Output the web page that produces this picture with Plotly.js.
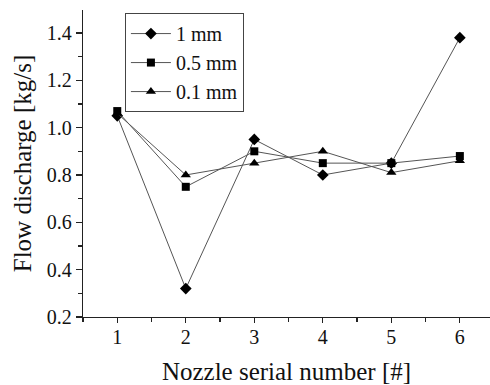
<!DOCTYPE html>
<html><head><meta charset="utf-8">
<script src="https://cdn.plot.ly/plotly-3.0.1.min.js"></script>
<style>body{margin:0;background:#fff}#c{width:490px;height:385px}</style>
</head><body><div id="c"></div>
<script>
const nozzles = [1, 2, 3, 4, 5, 6];
const seriesNames = ["1 mm", "0.5 mm", "0.1 mm"];
const flow1mm = [1.05, 0.32, 0.95, 0.80, 0.85, 1.38];
const flow05mm = [1.07, 0.75, 0.90, 0.85, 0.85, 0.88];
const flow01mm = [1.06, 0.80, 0.85, 0.90, 0.81, 0.86];
const symbols = ["diamond", "square", "triangle-up"];
const sizes = [9, 8, 9];
const allY = [flow1mm, flow05mm, flow01mm];

const traces = allY.map((y, i) => ({
  x: nozzles, y: y, name: seriesNames[i], type: "scatter", mode: "lines+markers",
  line: {color: "#555", width: 1},
  marker: {symbol: symbols[i], size: sizes[i], color: "#000"}
}));

const fam = "Liberation Serif, Times New Roman, serif";
const layout = {
  width: 490, height: 385,
  margin: {l: 83, r: 0, t: 10, b: 68},
  paper_bgcolor: "#fff", plot_bgcolor: "#fff",
  font: {family: fam, color: "#111"},
  showlegend: true,
  legend: {x: 0.103, y: 0.99, xanchor: "left", yanchor: "top",
    bordercolor: "#444", borderwidth: 1, font: {family: fam, size: 20, color: "#111"},
    tracegroupgap: 0, itemwidth: 40},
  xaxis: {range: [0.5, 6.44], tickvals: nozzles, ticks: "outside", ticklen: 5, tickwidth: 1.2,
    tickcolor: "#222", showline: true, linecolor: "#222", linewidth: 1.2, showgrid: false, zeroline: false,
    tickfont: {family: fam, size: 20, color: "#111"}, ticklabelstandoff: -3,
    minor: {dtick: 0.5, ticks: "outside", ticklen: 4, tickcolor: "#222", showgrid: false},
    title: {text: "Nozzle serial number [#]", font: {family: fam, size: 25, color: "#111"}, standoff: 18}},
  yaxis: {range: [0.2, 1.497], tickvals: [0.2, 0.4, 0.6, 0.8, 1.0, 1.2, 1.4],
    ticktext: ["0.2", "0.4", "0.6", "0.8", "1.0", "1.2", "1.4"],
    ticks: "outside", ticklen: 6, tickwidth: 1.2, tickcolor: "#222",
    showline: true, linecolor: "#222", linewidth: 1.2, showgrid: false, zeroline: false,
    tickfont: {family: fam, size: 20, color: "#111"},
    minor: {dtick: 0.1, ticks: "outside", ticklen: 4, tickcolor: "#222", showgrid: false},
    title: {text: "Flow discharge [kg/s]", font: {family: fam, size: 25, color: "#111"}, standoff: 8}}
};
Plotly.newPlot("c", traces, layout, {displayModeBar: false, staticPlot: true});
</script></body></html>
